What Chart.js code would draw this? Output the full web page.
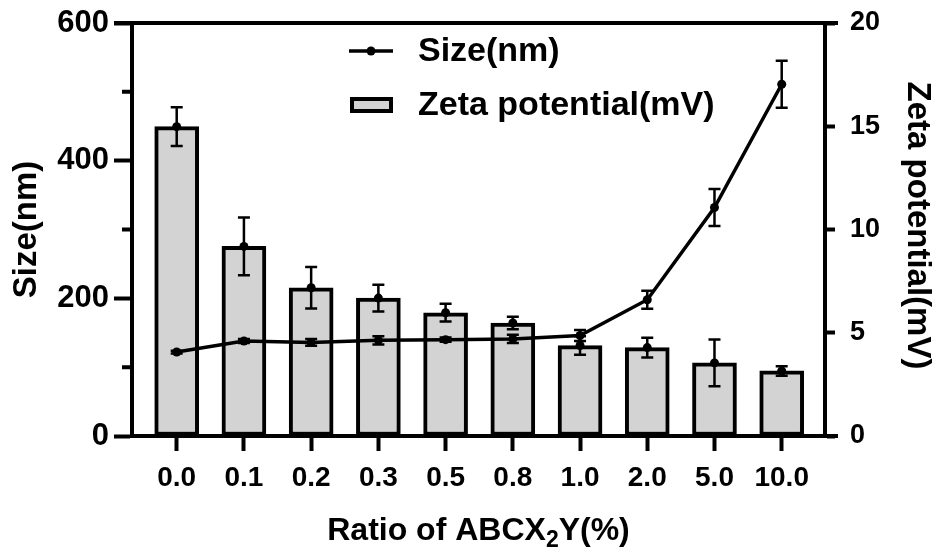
<!DOCTYPE html>
<html>
<head>
<meta charset="utf-8">
<script src="https://cdn.jsdelivr.net/npm/chart.js@4"></script>
<style>
  html, body { margin: 0; padding: 0; background: #fff; }
</style>
</head>
<body>
<canvas id="myChart" width="939" height="550"></canvas>
<script>
// data
var ratios = ['0.0', '0.1', '0.2', '0.3', '0.5', '0.8', '1.0', '2.0', '5.0', '10.0']
var size = [122, 138, 136, 139, 140, 141, 146, 198, 332, 511]
var sizeErr = [2, 3, 5, 6, 3, 6, 8, 13, 27, 34]
var zeta = [14.98, 9.18, 7.18, 6.68, 5.97, 5.47, 4.38, 4.28, 3.54, 3.15]
var zetaErr = [0.94, 1.4, 1.0, 0.65, 0.43, 0.3, 0.45, 0.48, 1.13, 0.23]
var sizeTicks = [0, 200, 400, 600]
var sizeMinor = [100, 300, 500]
var zetaTicks = [0, 5, 10, 15, 20]

var FONT = '"Liberation Sans", Arial, Helvetica, sans-serif'
Chart.defaults.font.family = FONT
Chart.defaults.font.weight = 'bold'
Chart.defaults.color = '#000'

function xy (vals) {
  return vals.map(function (v, i) { return {x: i, y: v} })
}

// fixed axis box sizes, no extra label padding
function fixBox (w, h) {
  return function (s) {
    if (w) s.width = w
    if (h) s.height = h
    s.paddingTop = 0
    s.paddingBottom = 0
    s.paddingLeft = 0
    s.paddingRight = 0
  }
}

var errorBars = {
  id: 'errorBars',
  afterDatasetsDraw: function (chart) {
    var c = chart.ctx
    c.save()
    c.strokeStyle = '#000'
    c.lineWidth = 2.5
    chart.data.datasets.forEach(function (ds, di) {
      if (!ds.errs) return
      var meta = chart.getDatasetMeta(di)
      var sc = chart.scales[ds.yAxisID]
      meta.data.forEach(function (el, i) {
        var v = ds.data[i].y
        var e = ds.errs[i]
        var y1 = sc.getPixelForValue(v + e)
        var y2 = sc.getPixelForValue(v - e)
        c.beginPath()
        c.moveTo(el.x, y1); c.lineTo(el.x, y2)
        c.moveTo(el.x - 6, y1); c.lineTo(el.x + 6, y1)
        c.moveTo(el.x - 6, y2); c.lineTo(el.x + 6, y2)
        c.stroke()
      })
    })
    c.restore()
  }
}

var frameAndText = {
  id: 'frameAndText',
  afterDraw: function (chart) {
    var a = chart.chartArea
    var c = chart.ctx
    c.save()
    c.strokeStyle = '#000'
    c.lineWidth = 4
    c.beginPath()
    c.moveTo(a.left - 18, a.top); c.lineTo(a.right + 13, a.top)
    c.moveTo(a.right, a.bottom); c.lineTo(a.right + 13, a.bottom)
    var ys = chart.scales.ySize
    sizeMinor.forEach(function (v) {
      var y = ys.getPixelForValue(v)
      c.moveTo(a.left - 10, y); c.lineTo(a.left, y)
    })
    c.stroke()

    // legend
    c.lineWidth = 3.5
    c.beginPath(); c.moveTo(349, 51); c.lineTo(393, 51); c.stroke()
    c.beginPath(); c.arc(371, 51, 4.5, 0, Math.PI * 2); c.fillStyle = '#000'; c.fill()
    c.fillStyle = '#d3d3d3'
    c.fillRect(350, 97, 43, 16)
    c.lineWidth = 4
    c.strokeRect(352, 99, 39, 12)
    c.fillStyle = '#000'
    c.font = 'bold 34px ' + FONT
    c.textAlign = 'left'
    c.textBaseline = 'middle'
    c.fillText('Size(nm)', 418, 52)
    c.fillText('Zeta potential(mV)', 418, 106)

    // axis titles
    c.font = 'bold 33px ' + FONT
    c.textAlign = 'center'
    c.save()
    c.translate(27, (a.top + a.bottom) / 2)
    c.rotate(-Math.PI / 2)
    c.fillText('Size(nm)', 0, 0)
    c.restore()
    c.save()
    c.translate(917, (a.top + a.bottom) / 2 - 4)
    c.rotate(Math.PI / 2)
    c.fillText('Zeta potential(mV)', 0, 0)
    c.restore()

    // x title with subscript
    var main1 = 'Ratio of ABCX'
    var sub = '2'
    var main2 = 'Y(%)'
    c.textBaseline = 'alphabetic'
    c.textAlign = 'left'
    c.font = 'bold 32px ' + FONT
    var w1 = c.measureText(main1).width
    var w3 = c.measureText(main2).width
    c.font = 'bold 23px ' + FONT
    var w2 = c.measureText(sub).width
    var x0 = (a.left + a.right) / 2 - (w1 + w2 + w3) / 2
    c.font = 'bold 32px ' + FONT
    c.fillText(main1, x0, 540)
    c.fillText(main2, x0 + w1 + w2, 540)
    c.font = 'bold 23px ' + FONT
    c.fillText(sub, x0 + w1, 547)
    c.restore()
  }
}

var ctx = document.getElementById('myChart')
var myChart = new Chart(ctx, {
  type: 'bar',
  data: {
    datasets: [{
      type: 'line',
      label: 'Size(nm)',
      data: xy(size),
      errs: sizeErr,
      yAxisID: 'ySize',
      borderColor: '#000',
      borderWidth: 3.5,
      pointRadius: 4.5,
      pointBackgroundColor: '#000',
      pointBorderWidth: 0,
      tension: 0,
      order: 1
    }, {
      type: 'line',
      label: 'Zeta mean',
      data: xy(zeta),
      errs: zetaErr,
      yAxisID: 'yZeta',
      showLine: false,
      pointRadius: 4.5,
      pointBackgroundColor: '#000',
      pointBorderWidth: 0,
      order: 2
    }, {
      label: 'Zeta potential(mV)',
      data: xy(zeta),
      yAxisID: 'yZeta',
      backgroundColor: '#d3d3d3',
      borderColor: '#000',
      borderWidth: 4,
      borderSkipped: false,
      barThickness: 44,
      order: 3
    }]
  },
  options: {
    responsive: false,
    animation: false,
    devicePixelRatio: 1,
    layout: {padding: {top: 23, left: 0, right: 0, bottom: 0}},
    plugins: {
      legend: {display: false},
      tooltip: {enabled: false}
    },
    scales: {
      x: {
        type: 'linear',
        offset: false,
        min: -0.665,
        max: 9.644,
        afterBuildTicks: function (s) {
          s.ticks = ratios.map(function (r, i) { return {value: i} })
        },
        afterFit: fixBox(0, 114),
        ticks: {
          autoSkip: false,
          maxRotation: 0,
          padding: 10,
          font: {size: 28},
          callback: function (v) { return ratios[v] }
        },
        grid: {offset: false, drawOnChartArea: false, tickLength: 15, tickWidth: 4, tickColor: '#000'},
        border: {width: 4, color: '#000'}
      },
      ySize: {
        position: 'left',
        min: 0,
        max: 600,
        afterBuildTicks: function (s) {
          s.ticks = sizeTicks.map(function (v) { return {value: v} })
        },
        afterFit: fixBox(132, 0),
        ticks: {padding: 5, font: {size: 31}},
        grid: {drawOnChartArea: false, tickLength: 18, tickWidth: 4, tickColor: '#000'},
        border: {width: 4, color: '#000'}
      },
      yZeta: {
        position: 'right',
        min: 0,
        max: 20,
        afterBuildTicks: function (s) {
          s.ticks = zetaTicks.map(function (v) { return {value: v} })
        },
        afterFit: fixBox(114, 0),
        ticks: {padding: 15, font: {size: 27}},
        grid: {drawOnChartArea: false, tickLength: 10, tickWidth: 4, tickColor: '#000'},
        border: {width: 4, color: '#000'}
      }
    }
  },
  plugins: [errorBars, frameAndText]
})
</script>
</body>
</html>
